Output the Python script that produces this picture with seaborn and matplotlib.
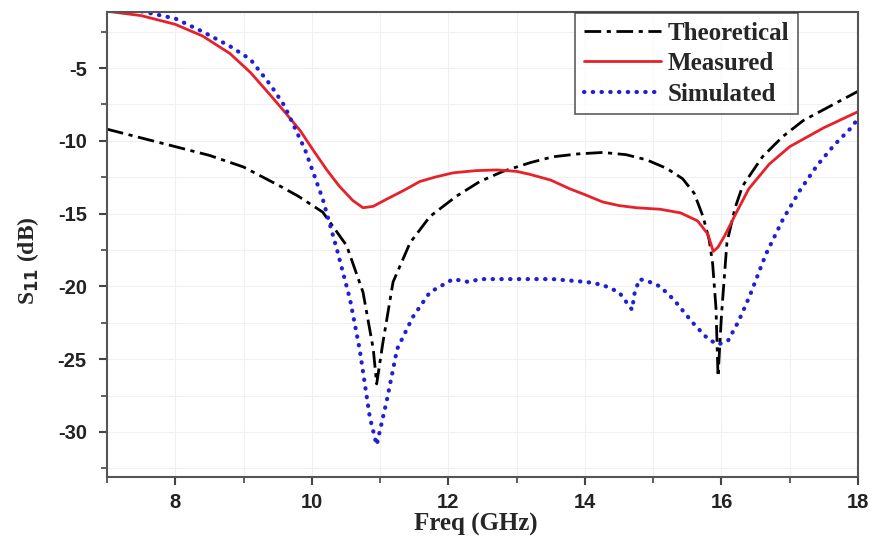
import matplotlib
matplotlib.use('Agg')
import matplotlib.pyplot as plt
import seaborn as sns
import pandas as pd
from matplotlib.ticker import MultipleLocator

# -------------------------
# Data
# -------------------------
meas_f = [7.0, 7.5, 8.0, 8.4, 8.8, 9.1, 9.4, 9.6, 9.83, 10.0, 10.22, 10.4, 10.6, 10.75, 10.9,
          11.1, 11.35, 11.58, 11.8, 12.07, 12.4, 12.71, 13.0, 13.19, 13.5, 13.78, 14.0, 14.26,
          14.5, 14.76, 15.1, 15.4, 15.65, 15.8, 15.88, 15.95, 16.05, 16.2, 16.4, 16.7, 17.0,
          17.5, 18.0]
meas_s = [-1.1, -1.4, -2.0, -2.8, -4.0, -5.3, -6.9, -8.0, -9.3, -10.5, -12.0, -13.1, -14.1, -14.6, -14.5,
          -14.0, -13.4, -12.8, -12.5, -12.2, -12.05, -12.0, -12.1, -12.3, -12.7, -13.3, -13.7, -14.2,
          -14.45, -14.6, -14.7, -14.95, -15.5, -16.4, -17.6, -17.3, -16.5, -15.1, -13.3, -11.6, -10.4,
          -9.1, -8.0]

sim_f = [7.0, 7.5, 8.0, 8.4, 8.8, 9.1, 9.4, 9.6, 9.9, 10.16, 10.37, 10.56, 10.7, 10.85, 10.95,
         11.1, 11.25, 11.48, 11.73, 12.07, 12.3, 12.46, 13.0, 13.53, 14.03, 14.26, 14.5, 14.61,
         14.69, 14.73, 14.8, 14.95, 15.1, 15.3, 15.58, 15.8, 15.95, 16.1, 16.25, 16.41, 16.65,
         16.9, 17.15, 17.4, 17.65, 17.88, 18.0]
sim_s = [-0.9, -1.1, -1.6, -2.5, -3.5, -4.4, -6.2, -7.6, -10.6, -14.0, -17.5, -20.9, -24.3, -29.0, -30.9,
         -27.8, -24.3, -22.1, -20.4, -19.5, -19.7, -19.5, -19.5, -19.5, -19.7, -19.9, -20.4, -21.1,
         -21.6, -20.4, -19.5, -19.7, -20.0, -20.9, -22.5, -23.6, -24.0, -23.7, -22.4, -20.7, -17.8,
         -15.4, -13.4, -11.7, -10.3, -9.2, -8.5]

theo_f = [7.0, 7.5, 8.0, 8.5, 9.0, 9.53, 9.8, 10.16, 10.51, 10.75, 10.9, 10.95, 11.04, 11.19,
          11.44, 11.73, 12.12, 12.46, 12.8, 13.2, 13.53, 13.9, 14.26, 14.6, 14.9, 15.2,
          15.43, 15.6, 15.73, 15.82, 15.87, 15.92, 15.95, 16.0, 16.08, 16.2, 16.31, 16.6, 16.9,
          17.2, 17.6, 18.0]
theo_s = [-9.2, -9.8, -10.4, -11.0, -11.8, -13.1, -13.8, -14.9, -17.2, -20.4, -24.3, -26.7, -23.9, -19.7,
          -17.0, -15.2, -13.8, -12.8, -12.1, -11.5, -11.1, -10.9, -10.8, -10.95, -11.3, -11.9,
          -12.6, -13.6, -15.2, -16.8, -18.4, -21.5, -26.2, -22.0, -17.0, -14.6, -13.1, -11.1, -9.7,
          -8.6, -7.6, -6.6]

x_ticks = [8, 10, 12, 14, 16, 18]
y_ticks = [-30, -25, -20, -15, -10, -5]

df_theo = pd.DataFrame({'f': theo_f, 's': theo_s})
df_meas = pd.DataFrame({'f': meas_f, 's': meas_s})
df_sim = pd.DataFrame({'f': sim_f, 's': sim_s})

# -------------------------
# Plot
# -------------------------
sns.set_style('white')
plt.rcParams['axes.unicode_minus'] = False
fig = plt.figure(figsize=(8.74, 5.44), dpi=100)
ax = fig.add_axes([0.1224, 0.123, 0.8593, 0.855])

ax.grid(True, which='both', color='#f0f0f0', linewidth=0.8)

dashdot = (0, (6, 2, 1.5, 2))
dotted = (0, (0.1, 2.0))

sns.lineplot(data=df_theo, x='f', y='s', ax=ax, color='black', linewidth=2.0,
             label='Theoretical', sort=False)
ax.lines[-1].set_linestyle(dashdot)
sns.lineplot(data=df_meas, x='f', y='s', ax=ax, color='#e8202a', linewidth=2.0,
             label='Measured', sort=False)
sns.lineplot(data=df_sim, x='f', y='s', ax=ax, color='#1f1fd8', linewidth=3.0,
             label='Simulated', sort=False)
ax.lines[-1].set_linestyle(dotted)
ax.lines[-1].set_dash_capstyle('round')

ax.set_xlim(7, 18)
ax.set_ylim(-33.1, -1.15)
ax.set_xticks(x_ticks)
ax.set_yticks(y_ticks)
ax.xaxis.set_minor_locator(MultipleLocator(1))
ax.yaxis.set_minor_locator(MultipleLocator(2.5))
ax.tick_params(which='major', direction='out', length=6, width=1.5, color='#444444',
               left=True, bottom=True)
ax.tick_params(which='minor', direction='out', length=4, width=1.2, color='#444444',
               left=True, bottom=True)
ax.tick_params(axis='x', which='major', pad=5.5)
ax.tick_params(axis='y', which='major', pad=8.5)
for lab in ax.get_xticklabels() + ax.get_yticklabels():
    lab.set_fontfamily('Liberation Sans')
    lab.set_fontweight('bold')
    lab.set_fontsize(14.5)
    lab.set_color('#222222')

for sp in ax.spines.values():
    sp.set_color('#555555')
    sp.set_linewidth(1.5)

ax.set_xlabel('Freq (GHz)', fontfamily='Liberation Serif', fontweight='bold', fontsize=18)
ax.set_ylabel(r'S$_{\mathbf{11}}$ (dB)', fontfamily='Liberation Serif', fontweight='bold',
              fontsize=17)
ax.xaxis.set_label_coords(0.491, -0.078)
ax.yaxis.set_label_coords(-0.088, 0.465)

# legend
handles, labels = ax.get_legend_handles_labels()
handles[0].set_linestyle(dashdot)
handles[2].set_linestyle(dotted)
handles[2].set_dash_capstyle('round')
leg = ax.legend(handles, labels, loc='upper right', bbox_to_anchor=(0.92, 0.998),
                frameon=True, fancybox=False, handlelength=3.1, handletextpad=0.25,
                borderpad=0.35, labelspacing=0.3, borderaxespad=0,
                prop={'family': 'Liberation Serif', 'weight': 'bold', 'size': 18})
leg.get_frame().set_edgecolor('#333333')
leg.get_frame().set_linewidth(1.2)

fig.savefig('out.png', dpi=100)
